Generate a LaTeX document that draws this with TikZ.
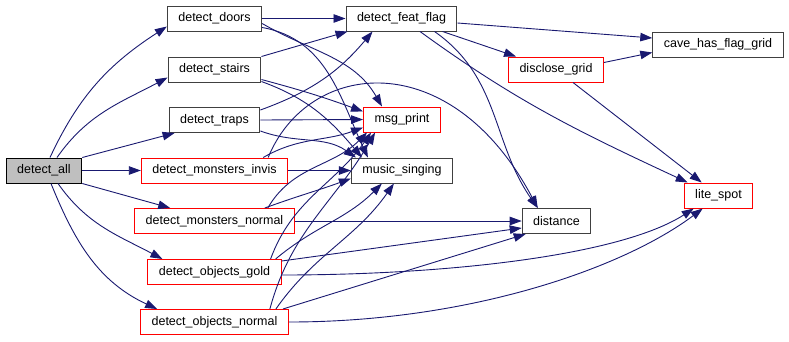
\documentclass[tikz,border=0pt]{standalone}
\usepackage{fontspec}
\setmainfont{Liberation Sans}
\usepackage{tikz}
\usetikzlibrary{arrows.meta}
\definecolor{edgeblue}{HTML}{191970}

\begin{document}
\begin{tikzpicture}[
      x=1pt,y=1pt,
      func/.style={
         rectangle,
         minimum height=25pt,
         inner xsep=11pt,
         line width=1pt,
         draw=black!75,
         fill=white,
         font=\fontsize{12.5}{14}\selectfont,
         %text height=1.5ex,
         %text depth=.25ex
      },
      redfunc/.style={func,draw=red},
      root/.style={func,draw=black,fill=black!25},
      tip/.style={-{Triangle[length=12pt,width=8.5pt]}},
      call/.style={tip,draw=edgeblue,line width=0.9pt},
    ]
    \useasboundingbox (0,0) rectangle (789,-341);

    \node (all)      [root]    at (44,-170.5)  {detect\_all};
    \node (doors)    [func]    at (214.5,-18.5) {detect\_doors};
    \node (stairs)   [func]    at (214.5,-69.5) {detect\_stairs};
    \node (traps)    [func]    at (214.5,-120)  {detect\_traps};
    \node (minvis)   [redfunc] at (214.5,-170.5) {detect\_monsters\_invis};
    \node (mnormal)  [redfunc] at (214.5,-221)  {detect\_monsters\_normal};
    \node (ogold)    [redfunc] at (214.5,-272)  {detect\_objects\_gold};
    \node (onormal)  [redfunc] at (214.5,-322)  {detect\_objects\_normal};
    \node (featflag) [func]    at (401.5,-18.5) {detect\_feat\_flag};
    \node (msgprint) [redfunc] at (402,-119.5)  {msg\_print};
    \node (music)    [func]    at (402,-170.5)  {music\_singing};
    \node (disclose) [redfunc] at (556,-69.5)   {disclose\_grid};
    \node (distance) [func]    at (556.5,-221)  {distance};
    \node (cave)     [func]    at (718,-44.5)   {cave\_has\_flag\_grid};
    \node (litespot) [redfunc] at (718.5,-195.5) {lite\_spot};

    % detect_all
    \draw[call] ([xshift=6pt]all.north) to[out=65,in=213] ([yshift=-8pt]doors.west);
    \draw[call] ([xshift=13pt]all.north) to[out=55,in=208] ([yshift=-8pt]stairs.west);
    \draw[call] (all.north east) -- ([xshift=6pt]traps.south west);
    \draw[call] (all.east) -- (minvis.west);
    \draw[call] (all.south east) -- ([xshift=36pt]mnormal.north west);
    \draw[call] ([xshift=14pt]all.south) to[out=-55,in=152] ([xshift=15pt]ogold.north west);
    \draw[call] ([xshift=7pt]all.south) to[out=-68,in=155] ([xshift=17pt]onormal.north west);

    % detect_doors
    \draw[call] (doors.east) -- (featflag.west);
    \draw[call] ([yshift=-5pt]doors.east) to[out=-30,in=120] ([xshift=-20pt]msgprint.north);
    \draw[call] ([yshift=-9pt]doors.east) to[out=-10,in=115] ([xshift=17pt]music.north west);

    % detect_stairs
    \draw[call] (stairs.north east) -- ([xshift=2pt]featflag.south west);
    \draw[call] ([yshift=-10pt]stairs.east) to[out=-15,in=160] ([yshift=8pt]msgprint.west);
    \draw[call] ([yshift=-12pt]stairs.east) to[out=-20,in=130] ([xshift=11pt]music.north west);

    % detect_traps
    \draw[call] ([yshift=10pt]traps.east) to[out=20,in=230] ([xshift=27pt]featflag.south west);
    \draw[call] (traps.east) -- (msgprint.west);
    \draw[call] ([yshift=-11pt]traps.east) to[out=-20,in=145] ([xshift=5pt]music.north west);

    % detect_monsters_invis
    \draw[call] (minvis.east) -- (music.west);
    \draw[call] ([xshift=-25pt]minvis.north east) to[out=30,in=200] ([yshift=-8pt]msgprint.west);
    \draw[call] ([xshift=-20pt]minvis.north east) .. controls +(40,98) and +(-87,164) .. ([xshift=16pt]distance.north west);

    % detect_monsters_normal
    \draw[call] (mnormal.east) -- (distance.west);
    \draw[call] ([xshift=-30pt]mnormal.north east) to[out=20,in=200] ([yshift=-8pt]music.west);
    \draw[call] ([xshift=-27pt]mnormal.north east) to[out=60,in=225] ([xshift=4pt]msgprint.south west);

    % detect_objects_gold
    \draw[call] ([xshift=-11pt]ogold.north east) to[out=70,in=235] ([xshift=8pt]msgprint.south west);
    \draw[call] ([xshift=-6pt]ogold.north east) to[out=40,in=225] ([xshift=31pt]music.south west);
    \draw[call] ([yshift=11pt]ogold.east) -- ([yshift=-7pt]distance.west);
    \draw[call] ([yshift=-3pt]ogold.east) .. controls +(166,0) and +(-73,-47) .. ([xshift=10pt]litespot.south west);

    % detect_objects_normal
    \draw[call] ([xshift=-19pt]onormal.north east) to[out=75,in=240] ([xshift=12pt]msgprint.south west);
    \draw[call] ([xshift=-13pt]onormal.north east) to[out=55,in=235] ([xshift=43pt]music.south west);
    \draw[call] ([xshift=-6pt]onormal.north east) -- ([xshift=4pt]distance.south west);
    \draw[call] (onormal.east) .. controls +(180,0) and +(-80,-60) .. ([xshift=19pt]litespot.south west);

    % detect_feat_flag
    \draw[call] ([yshift=-4.5pt]featflag.east) -- ([yshift=6.5pt]cave.west);
    \draw[call] ([xshift=-15pt]featflag.south east) -- ([xshift=8pt]disclose.north west);
    \draw[call] ([xshift=18.5pt]featflag.south) to[out=-36,in=155] ([xshift=4pt]litespot.north west);
    \draw[call] ([xshift=33pt]featflag.south) to[out=-35,in=125] ([xshift=16pt]distance.north west);

    % disclose_grid
    \draw[call] ([yshift=7pt]disclose.east) -- ([yshift=-8pt]cave.west);
    \draw[call] ([xshift=17pt]disclose.south) -- ([xshift=18pt]litespot.north west);
\end{tikzpicture}
\end{document}
